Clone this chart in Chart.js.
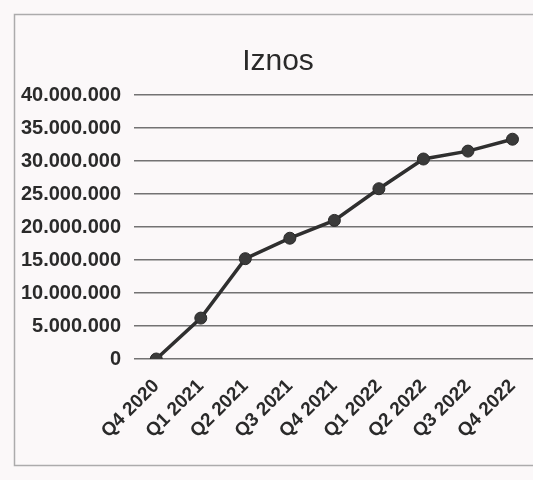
<!DOCTYPE html>
<html><head><meta charset="utf-8">
<script src="https://cdn.jsdelivr.net/npm/chart.js@4/dist/chart.umd.min.js"></script>
<style>
html,body{margin:0;padding:0;background:#fbf8f9;overflow:hidden;}
#wrap{position:relative;width:533px;height:480px;overflow:hidden;}
canvas{position:absolute;left:0;top:0;}
</style></head><body>
<div id="wrap"><canvas id="c" width="545" height="480" style="width:545px;height:480px"></canvas></div>
<script>
const categories = ["Q4 2020","Q1 2021","Q2 2021","Q3 2021","Q4 2021","Q1 2022","Q2 2022","Q3 2022","Q4 2022"];
const iznos = [0, 6200000, 15200000, 18300000, 21000000, 25800000, 30300000, 31500000, 33300000];
const titleText = "Iznos";
const yMax = 40000000;
const yStep = 5000000;

function fmt(v){ return String(Math.round(v)).replace(/\B(?=(\d{3})+(?!\d))/g, "."); }

const frame = {
  id:'frame',
  beforeDraw(chart){
    const ctx = chart.ctx;
    ctx.save();
    ctx.fillStyle = '#fbf8f9';
    ctx.fillRect(0,0,chart.width,chart.height);
    ctx.strokeStyle = 'rgba(120,120,120,0.6)';
    ctx.lineWidth = 1.5;
    ctx.strokeRect(14.5,14.5,chart.width+20,451);
    ctx.restore();
  },
  afterDraw(chart){
    const ctx = chart.ctx;
    ctx.save();
    ctx.fillStyle = '#2a2a2a';
    ctx.font = '30px "Liberation Sans", Arial, sans-serif';
    ctx.textAlign = 'center';
    ctx.textBaseline = 'middle';
    ctx.fillText(titleText, 278, 62);
    ctx.restore();
  }
};

new Chart(document.getElementById('c'), {
  type:'line',
  data:{ labels:categories, datasets:[{
    label:'Iznos', data:iznos,
    borderColor:'#2f2f2f', backgroundColor:'#2f2f2f',
    borderWidth:3.5, pointRadius:6, pointBackgroundColor:'#3a3a3a',
    pointBorderColor:'#2a2a2a', pointBorderWidth:1, tension:0
  }]},
  options:{
    responsive:false, animation:false,
    layout:{ padding:{ top:95, bottom:20, left:16, right:3 } },
    plugins:{ legend:{display:false}, title:{display:false}, tooltip:{enabled:false} },
    scales:{
      x:{
        offset:true,
        grid:{ display:false, drawTicks:false },
        border:{ display:false },
        ticks:{ minRotation:45, maxRotation:45, autoSkip:false, padding:16,
          color:'#2a2a2a', font:{ family:'"Liberation Sans", Arial, sans-serif', size:19, weight:'bold' } },
        afterFit(s){ s.height = 101; }
      },
      y:{
        min:0, max:yMax,
        grid:{ color:'rgba(70,70,70,0.75)', lineWidth:1.6, drawTicks:false },
        border:{ display:false },
        ticks:{ stepSize:yStep, padding:13, color:'#2a2a2a',
          font:{ family:'"Liberation Sans", Arial, sans-serif', size:20, weight:'bold' },
          callback:(v)=>fmt(v) },
        afterFit(s){ s.width = 118; }
      }
    }
  },
  plugins:[frame]
});
</script>
</body></html>
